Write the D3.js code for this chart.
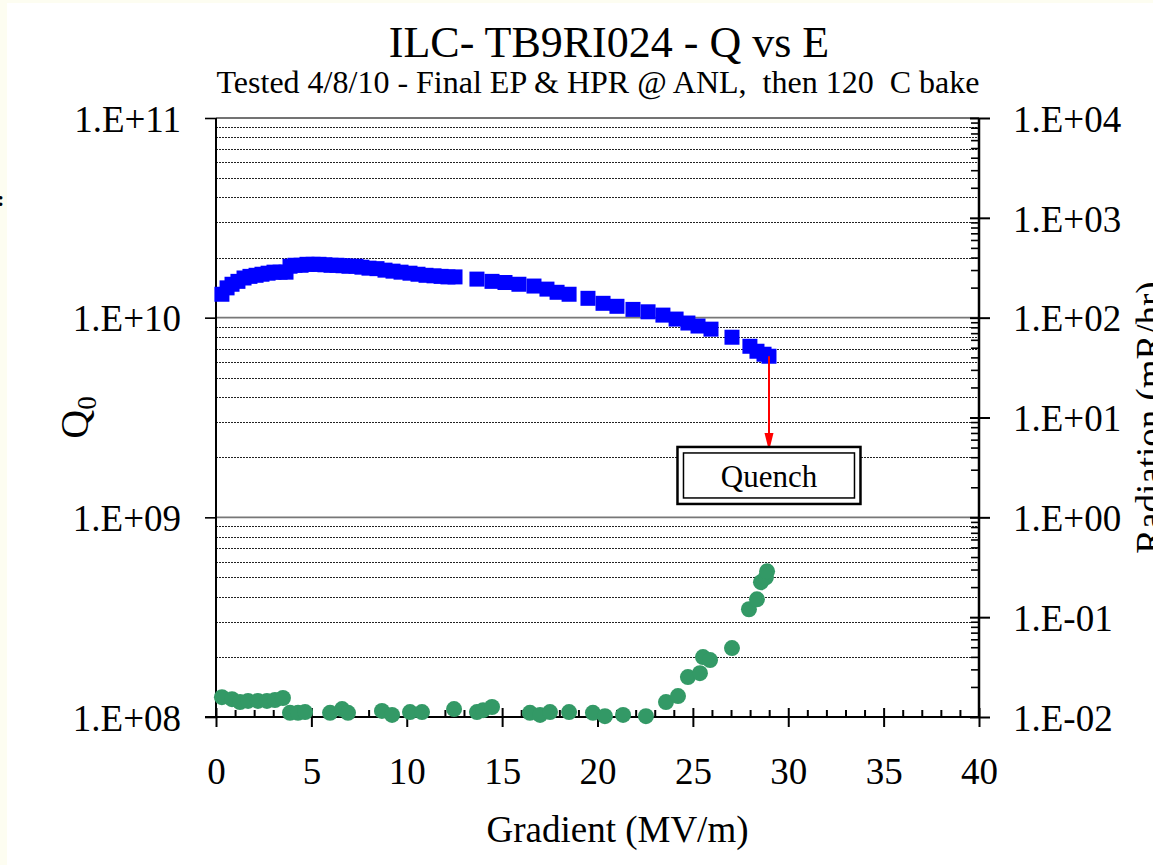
<!DOCTYPE html>
<html>
<head>
<meta charset="utf-8">
<script src="https://cdn.jsdelivr.net/npm/d3@7"></script>
<style>
body{margin:0;background:#fdfdf1;}
svg{display:block;}
text{font-family:"Liberation Serif","Times New Roman",serif;fill:#000;}
</style>
</head>
<body>
<div id="chart"></div>
<script>
const width = 1153;
const height = 865;
const margin = {top:118,right:174,bottom:148,left:216};

// Q0 vs gradient (blue squares)
const qGradient = [0.31,0.58,0.84,1.15,1.47,1.78,2.10,2.41,2.73,3.04,3.36,3.67,3.88,4.14,4.46,4.77,5.09,5.40,5.71,6.03,6.34,6.66,6.97,7.34,7.65,8.02,8.44,8.86,9.28,9.70,10.17,10.59,11.01,11.43,11.80,12.16,12.53,13.68,14.47,15.15,15.88,16.67,17.35,17.88,18.51,19.50,20.29,21.02,21.86,22.65,23.43,24.12,24.74,25.27,25.95,27.05,27.99,28.36,28.73,28.99];
const q0 = [1.31e10,1.41e10,1.47e10,1.52e10,1.58e10,1.61e10,1.63e10,1.65e10,1.67e10,1.69e10,1.69e10,1.69e10,1.81e10,1.83e10,1.83e10,1.85e10,1.85e10,1.85e10,1.84e10,1.83e10,1.83e10,1.82e10,1.81e10,1.81e10,1.79e10,1.77e10,1.76e10,1.73e10,1.71e10,1.69e10,1.67e10,1.65e10,1.63e10,1.62e10,1.61e10,1.60e10,1.60e10,1.56e10,1.52e10,1.50e10,1.47e10,1.44e10,1.39e10,1.34e10,1.31e10,1.25e10,1.18e10,1.14e10,1.10e10,1.07e10,1.03e10,9.84e9,9.40e9,9.08e9,8.76e9,7.98e9,7.19e9,6.79e9,6.56e9,6.41e9];

// radiation vs gradient (green dots)
const radGradient = [0.31,0.84,1.26,1.68,2.20,2.67,3.09,3.51,3.88,4.30,4.67,5.98,6.61,6.92,8.70,9.23,10.17,10.80,12.48,13.68,14.00,14.47,16.46,16.99,17.51,18.51,19.76,20.39,21.34,22.54,23.59,24.22,24.74,25.37,25.53,25.90,27.05,27.94,28.36,28.57,28.83,28.89];
const radiation = [0.0158,0.0151,0.0141,0.0145,0.0145,0.0145,0.0148,0.0155,0.0110,0.0110,0.0112,0.0110,0.0120,0.0110,0.0115,0.0105,0.0112,0.0112,0.0120,0.0112,0.0117,0.0126,0.0110,0.0105,0.0112,0.0112,0.0110,0.0102,0.0105,0.0102,0.0141,0.0162,0.0251,0.0275,0.0398,0.0372,0.0490,0.120,0.151,0.224,0.251,0.288];

const xTicks = [0,5,10,15,20,25,30,35,40];
const qTicks = [1e8,1e9,1e10,1e11];
const radTicks = [1e-2,1e-1,1e0,1e1,1e2,1e3,1e4];
const qLabels = ["1.E+08","1.E+09","1.E+10","1.E+11"];
const radLabels = ["1.E-02","1.E-01","1.E+00","1.E+01","1.E+02","1.E+03","1.E+04"];

// quench annotation: arrow from last point down to this Q value
const quench = {gradient:28.99, qFrom:6.41e9, qTo:2.2e9, label:"Quench"};

const svg = d3.select("#chart")
.append("svg")
.attr("width",width)
.attr("height",height);

// background (thin cream edge like the screenshot)
svg.append("rect").attr("width",width).attr("height",height).attr("fill","#fdfdf1");
svg.append("rect").attr("x",7).attr("y",3).attr("width",width-7).attr("height",height-3).attr("fill","#fff");

const x = d3.scaleLinear()
.domain([0,40])
.range([margin.left,width-margin.right]);

const yQ = d3.scaleLog()
.domain([1e8,1e11])
.range([height-margin.bottom,margin.top]);

const yR = d3.scaleLog()
.domain([1e-2,1e4])
.range([height-margin.bottom,margin.top]);

const minorOf = (lo,hi)=>{
  const out=[];
  for(let d=lo; d<hi; d*=10){
    for(let k=2;k<=9;k++) out.push(k*d);
  }
  return out;
};

// GRID (minor dotted, major solid)
svg.append("g")
.selectAll("line")
.data(minorOf(1e8,1e11))
.enter()
.append("line")
.attr("x1",x(0))
.attr("x2",x(40))
.attr("y1",d=>Math.round(yQ(d))+0.5)
.attr("y2",d=>Math.round(yQ(d))+0.5)
.attr("stroke","#222")
.attr("stroke-width",1)
.attr("stroke-dasharray","2,1");

svg.append("g")
.selectAll("line")
.data([1e9,1e10,1e11])
.enter()
.append("line")
.attr("x1",x(0))
.attr("x2",x(40))
.attr("y1",d=>yQ(d))
.attr("y2",d=>yQ(d))
.attr("stroke",d=>d===1e11?"#444":"#777")
.attr("stroke-width",1.6);

// X AXIS
svg.append("g")
.attr("transform",`translate(0,${height-margin.bottom})`)
.call(d3.axisBottom(x).tickValues(xTicks).tickSize(10).tickPadding(31).tickFormat(d3.format("d")))
.call(g=>g.select(".domain").remove())
.call(g=>g.selectAll("line").attr("stroke-width",2))
.call(g=>g.selectAll("text").style("font-size","37px").attr("font-family",null));

svg.append("g")
.attr("transform",`translate(0,${height-margin.bottom})`)
.call(d3.axisBottom(x).tickValues(xTicks).tickSize(-9).tickFormat(""))
.call(g=>g.select(".domain").remove())
.call(g=>g.selectAll("line").attr("stroke-width",2));

svg.append("g")
.attr("transform",`translate(0,${height-margin.bottom})`)
.call(d3.axisBottom(x).tickValues(d3.range(0,41).filter(d=>d%5!==0)).tickSize(-7).tickFormat(""))
.call(g=>g.select(".domain").remove())
.call(g=>g.selectAll("line").attr("stroke-width",2));

svg.append("line")
.attr("x1",x(0)-11).attr("x2",x(40))
.attr("y1",height-margin.bottom).attr("y2",height-margin.bottom)
.attr("stroke","#000").attr("stroke-width",2);

// LEFT AXIS
svg.append("g")
.attr("transform",`translate(${margin.left},0)`)
.call(d3.axisLeft(yQ).tickValues(qTicks).tickSize(11).tickPadding(24).tickFormat((d,i)=>qLabels[i]))
.call(g=>g.select(".domain").remove())
.call(g=>g.selectAll("line").attr("stroke-width",1.6))
.call(g=>g.selectAll("text").style("font-size","37px").attr("font-family",null).attr("dy","0.36em"));

svg.append("line")
.attr("x1",margin.left).attr("x2",margin.left)
.attr("y1",margin.top).attr("y2",height-margin.bottom)
.attr("stroke","#000").attr("stroke-width",2);

// RIGHT AXIS
const xr = width-margin.right;
svg.append("g")
.attr("transform",`translate(${xr},0)`)
.call(d3.axisRight(yR).tickValues(radTicks).tickSize(11).tickPadding(23).tickFormat((d,i)=>radLabels[i]))
.call(g=>g.select(".domain").remove())
.call(g=>g.selectAll("line").attr("stroke-width",2))
.call(g=>g.selectAll("text").style("font-size","37px").attr("font-family",null).attr("dy","0.36em"));

svg.append("g")
.attr("transform",`translate(${xr},0)`)
.call(d3.axisRight(yR).tickValues(radTicks).tickSize(-9).tickFormat(""))
.call(g=>g.select(".domain").remove())
.call(g=>g.selectAll("line").attr("stroke-width",2));

svg.append("g")
.attr("transform",`translate(${xr},0)`)
.call(d3.axisRight(yR).tickValues(minorOf(1e-2,1e4)).tickSize(-8).tickFormat(""))
.call(g=>g.select(".domain").remove())
.call(g=>g.selectAll("line").attr("stroke-width",1.6));

svg.append("line")
.attr("x1",xr).attr("x2",xr)
.attr("y1",margin.top).attr("y2",height-margin.bottom)
.attr("stroke","#000").attr("stroke-width",2.5);

// RADIATION POINTS
svg.append("g")
.selectAll("circle")
.data(radGradient.map((g,i)=>({g:g,r:radiation[i]})))
.enter()
.append("circle")
.attr("cx",d=>x(d.g))
.attr("cy",d=>yR(d.r))
.attr("r",8)
.attr("fill","#339966");

// Q0 POINTS
svg.append("g")
.selectAll("rect")
.data(qGradient.map((g,i)=>({g:g,q:q0[i]})))
.enter()
.append("rect")
.attr("x",d=>x(d.g)-7.5)
.attr("y",d=>yQ(d.q)-7.5)
.attr("width",15)
.attr("height",15)
.attr("fill","#0000ff");

// QUENCH ARROW + BOX
const qx = x(quench.gradient);
const qy1 = yQ(quench.qFrom);
const qy2 = yQ(quench.qTo);
svg.append("line")
.attr("x1",qx).attr("x2",qx)
.attr("y1",qy1).attr("y2",qy2-14)
.attr("stroke","#ff0000").attr("stroke-width",2);
svg.append("path")
.attr("d",`M${qx-4.5},${qy2-16}L${qx+4.5},${qy2-16}L${qx},${qy2+2}Z`)
.attr("fill","#ff0000");

const boxW = 183, boxH = 57;
const bx = qx - boxW/2, by = qy2 - 2;
svg.append("rect")
.attr("x",bx).attr("y",by).attr("width",boxW).attr("height",boxH)
.attr("fill","#fff").attr("stroke","#000").attr("stroke-width",2.5);
svg.append("rect")
.attr("x",bx+6).attr("y",by+6).attr("width",boxW-12).attr("height",boxH-12)
.attr("fill","none").attr("stroke","#000").attr("stroke-width",1.5);
svg.append("text")
.attr("x",qx).attr("y",by+40)
.attr("text-anchor","middle")
.style("font-size","31px")
.text(quench.label);

// TITLES
svg.append("text")
.attr("x",609).attr("y",57)
.attr("text-anchor","middle")
.style("font-size","44px")
.text("ILC- TB9RI024 - Q vs E");

svg.append("text")
.attr("x",598).attr("y",93)
.attr("text-anchor","middle")
.style("font-size","32px")
.style("white-space","pre")
.text("Tested 4/8/10 - Final EP & HPR @ ANL,  then 120  C bake");

// X LABEL
svg.append("text")
.attr("x",(x(0)+x(40))/2 + 20).attr("y",842)
.attr("text-anchor","middle")
.style("font-size","37px")
.text("Gradient (MV/m)");

// Y LABEL (Q0)
const ql = svg.append("text")
.attr("transform",`translate(88,${(margin.top+height-margin.bottom)/2}) rotate(-90)`)
.attr("text-anchor","middle")
.style("font-size","40px");
ql.append("tspan").text("Q");
ql.append("tspan").attr("dy","0.3em").style("font-size","27px").text("0");

// RIGHT LABEL
svg.append("text")
.attr("transform",`translate(1162,${(margin.top+height-margin.bottom)/2}) rotate(-90)`)
.attr("text-anchor","middle")
.style("font-size","37px")
.text("Radiation (mR/hr)");

// stray mark at left edge
svg.append("text")
.attr("x",-3).attr("y",206)
.style("font-size","22px")
.style("font-weight","bold")
.text(":");
</script>
</body>
</html>
